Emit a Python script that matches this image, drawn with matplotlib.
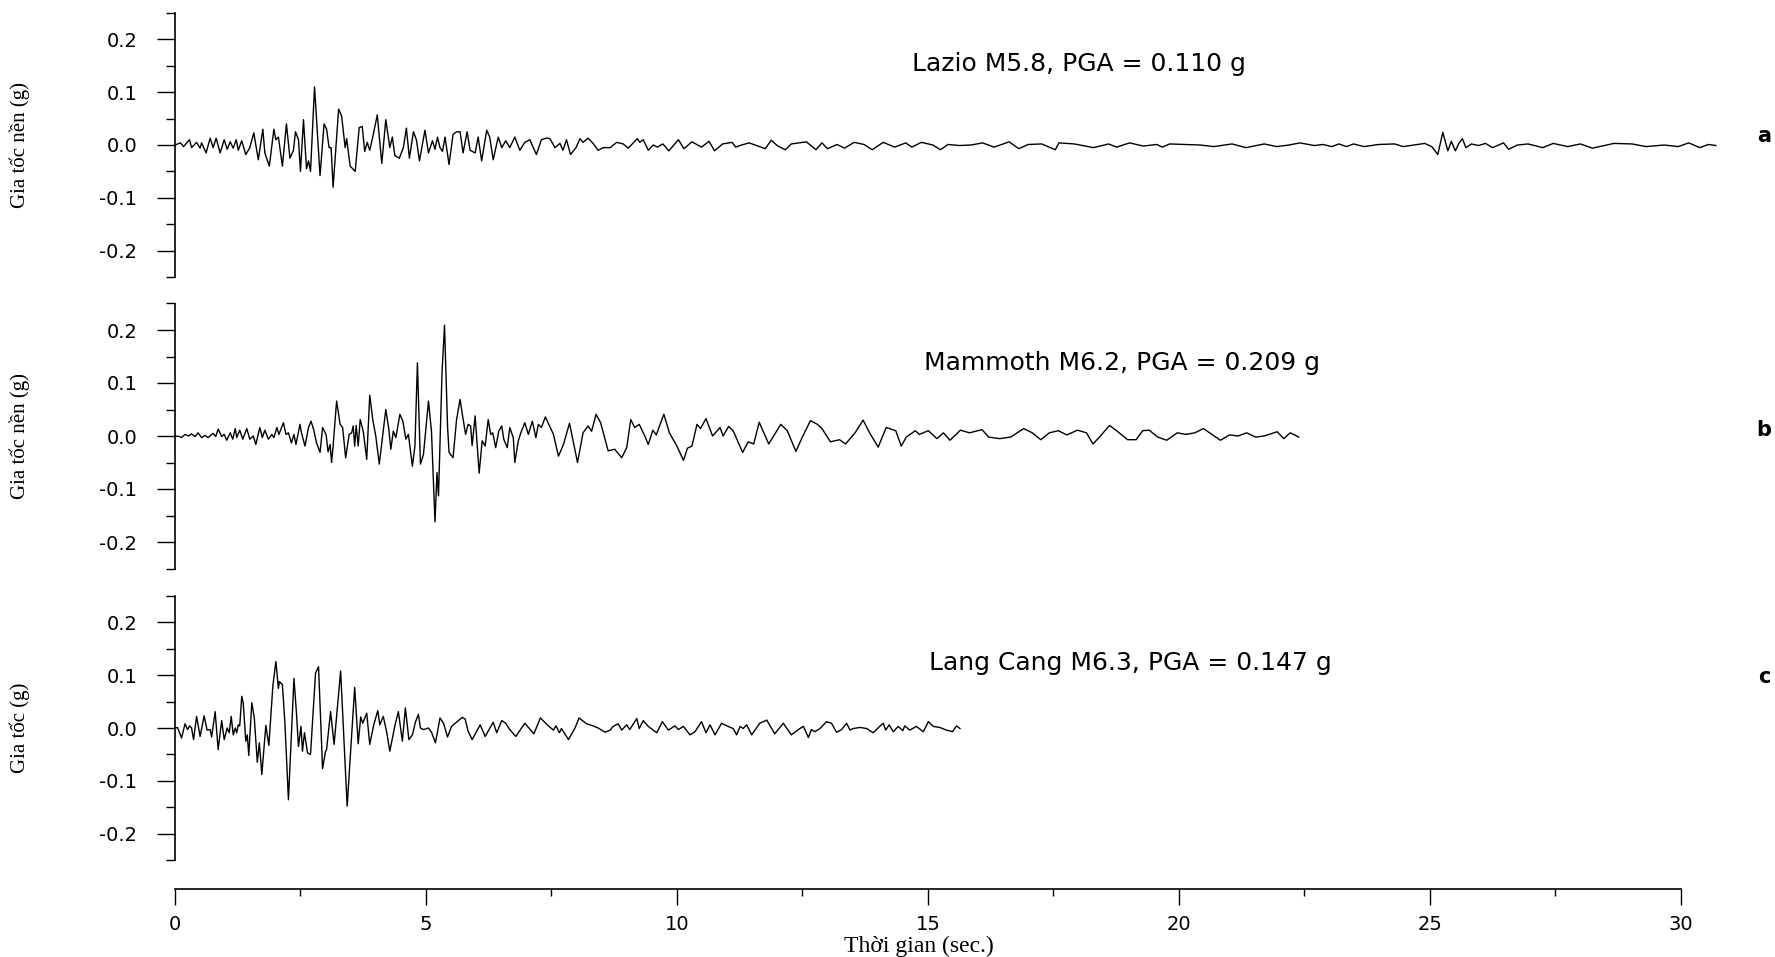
import matplotlib
matplotlib.use("Agg")
import matplotlib.pyplot as plt
from matplotlib.ticker import MultipleLocator, FormatStrFormatter

plt.rcParams['axes.unicode_minus'] = False

# Lazio M5.8 (time s, acceleration g)
lazio_t = [0.00, 0.11, 0.17, 0.29, 0.33, 0.43, 0.50, 0.53, 0.62, 0.70, 0.76, 0.82, 0.90, 0.98, 1.04, 1.10,
           1.16, 1.22, 1.26, 1.33, 1.41, 1.49, 1.57, 1.66, 1.75, 1.79, 1.88, 1.97, 2.01, 2.06, 2.14, 2.22,
           2.29, 2.36, 2.40, 2.46, 2.50, 2.56, 2.62, 2.66, 2.70, 2.78, 2.89, 2.97, 3.02, 3.07, 3.11, 3.15,
           3.26, 3.32, 3.39, 3.42, 3.49, 3.59, 3.67, 3.73, 3.78, 3.83, 3.88, 3.94, 4.03, 4.12, 4.20, 4.28,
           4.33, 4.38, 4.47, 4.55, 4.61, 4.67, 4.75, 4.81, 4.87, 4.98, 5.05, 5.13, 5.18, 5.23, 5.28, 5.33,
           5.38, 5.46, 5.54, 5.61, 5.68, 5.74, 5.82, 5.88, 5.98, 6.04, 6.11, 6.21, 6.27, 6.34, 6.44, 6.51,
           6.59, 6.67, 6.77, 6.87, 6.97, 7.07, 7.20, 7.30, 7.40, 7.47, 7.57, 7.67, 7.73, 7.80, 7.88, 7.99,
           8.07, 8.13, 8.23, 8.33, 8.43, 8.53, 8.67, 8.80, 8.93, 9.03, 9.12, 9.21, 9.26, 9.33, 9.43,
           9.53, 9.61, 9.72, 9.84, 10.03, 10.14, 10.30, 10.49, 10.64, 10.75, 10.91, 11.10, 11.17, 11.29,
           11.44, 11.67, 11.76, 11.88, 12.01, 12.16, 12.28, 12.43, 12.58, 12.77, 12.89, 13.00, 13.19, 13.34,
           13.53, 13.73, 13.89, 14.11, 14.34, 14.56, 14.68, 14.87, 15.10, 15.25, 15.40, 15.63, 15.86, 16.09,
           16.32, 16.62, 16.81, 17.00, 17.27, 17.54, 17.61, 17.92, 18.30, 18.60, 18.76, 19.02, 19.29, 19.56,
           19.67, 19.82, 20.42, 20.70, 21.06, 21.34, 21.70, 21.95, 22.20, 22.41, 22.70, 22.87, 23.05, 23.19,
           23.34, 23.48, 23.69, 23.98, 24.30, 24.47, 24.69, 24.90, 25.04, 25.16, 25.26, 25.36, 25.43, 25.51,
           25.58, 25.65, 25.72, 25.83, 25.97, 26.11, 26.25, 26.47, 26.57, 26.75, 26.96, 27.25, 27.46, 27.75,
           28.00, 28.24, 28.67, 29.03, 29.31, 29.67, 29.95, 30.16, 30.38, 30.55, 30.70]
lazio_a = [0.000, 0.004, -0.003, 0.010, -0.005, 0.005, -0.006, 0.004, -0.015, 0.013, -0.005, 0.013, -0.015, 0.010, -0.008, 0.006,
           -0.006, 0.010, -0.010, 0.008, -0.018, -0.005, 0.023, -0.028, 0.030, -0.015, -0.040, 0.030, 0.010, 0.015, -0.040, 0.040,
           -0.025, -0.010, 0.025, 0.010, -0.050, 0.048, -0.045, -0.030, -0.050, 0.110, -0.058, 0.040, 0.030, -0.005, -0.005, -0.080,
           0.068, 0.055, -0.005, 0.012, -0.040, -0.050, 0.033, 0.035, -0.012, 0.005, -0.010, 0.015, 0.057, -0.035, 0.048, -0.005,
           0.015, -0.020, -0.025, -0.005, 0.032, -0.025, 0.025, 0.010, -0.030, 0.028, -0.015, 0.008, -0.008, 0.015, -0.005, -0.012,
           0.015, -0.037, 0.020, 0.025, 0.025, -0.015, 0.025, -0.010, -0.015, 0.015, -0.030, 0.028, 0.015, -0.028, 0.015, -0.005,
           0.008, -0.005, 0.015, -0.010, 0.005, 0.010, -0.018, 0.010, 0.013, 0.012, -0.005, 0.003, -0.010, 0.010, -0.018, -0.005,
           0.012, 0.005, 0.013, 0.003, -0.010, -0.005, -0.005, 0.005, 0.002, -0.006, 0.003, 0.012, 0.005, 0.010, -0.010,
           0.000, -0.004, 0.002, -0.011, 0.010, -0.007, 0.006, -0.004, 0.007, -0.011, 0.002, 0.005, -0.004, 0.000,
           0.004, -0.004, -0.007, 0.009, -0.002, -0.009, 0.002, 0.004, 0.006, -0.009, 0.004, -0.007, 0.001, -0.006,
           0.005, 0.001, -0.009, 0.005, -0.004, 0.004, -0.004, 0.005, 0.000, -0.009, 0.001, -0.001, 0.000, 0.004,
           -0.004, 0.006, -0.007, 0.001, 0.002, -0.009, 0.004, 0.002, -0.005, 0.002, -0.004, 0.004, -0.002, 0.001,
           -0.004, 0.002, 0.000, -0.003, 0.002, -0.005, 0.002, -0.003, 0.000, 0.004, -0.001, 0.001, -0.003, 0.002,
           -0.003, 0.002, -0.003, 0.001, 0.002, -0.003, 0.000, 0.003, -0.003, -0.018, 0.024, -0.011, 0.007, -0.011,
           0.003, 0.012, -0.005, 0.002, -0.001, 0.003, -0.005, 0.004, -0.008, 0.000, 0.002, -0.005, 0.003, -0.003,
           0.002, -0.006, 0.003, 0.002, -0.003, 0.000, -0.003, 0.004, -0.005, 0.001, -0.001]

# Mammoth M6.2
mammoth_t = [0.00, 0.09, 0.13, 0.20, 0.27, 0.33, 0.40, 0.46, 0.53, 0.60, 0.66, 0.76, 0.81, 0.86, 0.93, 0.98,
             1.03, 1.10, 1.15, 1.20, 1.23, 1.29, 1.35, 1.43, 1.49, 1.56, 1.61, 1.69, 1.74, 1.79, 1.86, 1.93,
             1.97, 2.03, 2.07, 2.16, 2.21, 2.26, 2.32, 2.37, 2.41, 2.49, 2.52, 2.59, 2.66, 2.71, 2.76, 2.82,
             2.89, 2.94, 3.01, 3.05, 3.09, 3.12, 3.15, 3.22, 3.29, 3.34, 3.40, 3.47, 3.52, 3.55, 3.58, 3.61,
             3.65, 3.69, 3.75, 3.82, 3.88, 3.94, 4.00, 4.07, 4.20, 4.26, 4.30, 4.35, 4.40, 4.43, 4.48, 4.54,
             4.60, 4.65, 4.73, 4.78, 4.83, 4.89, 4.95, 5.05, 5.11, 5.18, 5.22, 5.25, 5.32, 5.37, 5.43, 5.46,
             5.54, 5.61, 5.68, 5.72, 5.79, 5.84, 5.89, 5.92, 5.98, 6.06, 6.12, 6.18, 6.24, 6.29, 6.33, 6.39,
             6.45, 6.51, 6.55, 6.62, 6.67, 6.74, 6.77, 6.84, 6.89, 6.97, 7.04, 7.12, 7.19, 7.24, 7.30, 7.38,
             7.54, 7.64, 7.74, 7.86, 8.02, 8.13, 8.23, 8.30, 8.39, 8.48, 8.63, 8.76, 8.90, 9.00, 9.08, 9.16,
             9.25, 9.36, 9.43, 9.52, 9.59, 9.65, 9.74, 9.85, 10.00, 10.13, 10.21, 10.30, 10.40, 10.47, 10.58,
             10.71, 10.86, 10.92, 11.03, 11.12, 11.31, 11.42, 11.53, 11.64, 11.83, 12.07, 12.20, 12.37, 12.50,
             12.66, 12.80, 12.89, 13.06, 13.24, 13.36, 13.55, 13.71, 13.84, 14.01, 14.17, 14.36, 14.47, 14.57,
             14.75, 14.83, 15.01, 15.18, 15.31, 15.44, 15.65, 15.83, 16.08, 16.21, 16.43, 16.65, 16.91, 17.08,
             17.25, 17.42, 17.60, 17.77, 17.98, 18.16, 18.29, 18.42, 18.62, 18.76, 18.98, 19.15, 19.28, 19.41,
             19.58, 19.76, 19.97, 20.14, 20.32, 20.49, 20.66, 20.83, 21.01, 21.18, 21.35, 21.53, 21.70, 21.96,
             22.09, 22.22, 22.39]
mammoth_a = [0.000, -0.001, -0.003, 0.003, 0.000, 0.004, -0.001, 0.006, -0.003, 0.001, -0.003, 0.005, -0.001, 0.013, -0.001, 0.003,
             -0.008, 0.006, -0.006, 0.014, -0.003, 0.011, -0.006, 0.014, -0.006, 0.000, -0.016, 0.016, -0.003, 0.011, -0.006, 0.003,
             -0.003, 0.016, 0.003, 0.025, 0.003, 0.006, -0.013, 0.003, -0.016, 0.022, 0.006, -0.019, 0.016, 0.028, 0.013, -0.013,
             -0.031, 0.016, 0.003, -0.030, -0.016, -0.050, -0.019, 0.066, 0.022, 0.016, -0.041, 0.003, 0.006, 0.019, -0.019, 0.020,
             -0.019, 0.031, 0.009, -0.044, 0.077, 0.031, 0.000, -0.053, 0.050, 0.013, -0.025, 0.009, -0.003, 0.013, 0.041, 0.028,
             -0.006, 0.003, -0.057, -0.019, 0.138, -0.053, -0.035, 0.066, 0.009, -0.162, -0.069, -0.113, 0.119, 0.209, 0.019, -0.031,
             -0.041, 0.031, 0.069, 0.044, 0.003, 0.022, 0.019, -0.018, 0.038, -0.070, -0.009, -0.019, 0.031, 0.003, 0.006, -0.022,
             0.009, 0.019, -0.006, -0.022, 0.016, -0.003, -0.050, -0.009, 0.006, 0.025, 0.003, 0.028, -0.003, 0.022, 0.016, 0.036,
             0.003, -0.038, -0.016, 0.024, -0.050, 0.006, 0.019, 0.009, 0.041, 0.025, -0.028, -0.025, -0.041, -0.022, 0.031, 0.016,
             0.022, 0.000, -0.016, 0.011, 0.002, 0.018, 0.041, 0.006, -0.019, -0.046, -0.023, -0.019, 0.022, 0.014, 0.033,
             0.000, 0.016, 0.000, 0.018, 0.010, -0.031, -0.011, -0.015, 0.026, -0.015, 0.022, 0.010, -0.029, -0.002,
             0.029, 0.022, 0.014, -0.011, -0.007, -0.015, 0.006, 0.030, 0.006, -0.021, 0.016, 0.010, -0.019, -0.002,
             0.010, 0.003, 0.010, -0.005, 0.006, -0.008, 0.011, 0.006, 0.012, -0.002, -0.005, -0.002, 0.014, 0.006,
             -0.007, 0.006, 0.010, 0.002, 0.011, 0.006, -0.015, -0.002, 0.020, 0.010, -0.007, -0.007, 0.010, 0.011,
             -0.002, -0.008, 0.006, 0.003, 0.006, 0.014, 0.003, -0.008, 0.002, 0.000, 0.006, -0.002, 0.000, 0.008,
             -0.005, 0.006, -0.002]

# Lang Cang M6.3
langcang_t = [0.00, 0.05, 0.13, 0.20, 0.25, 0.29, 0.33, 0.37, 0.43, 0.50, 0.58, 0.64, 0.70, 0.73, 0.80, 0.86,
              0.93, 0.98, 1.04, 1.08, 1.12, 1.16, 1.20, 1.23, 1.26, 1.29, 1.33, 1.36, 1.41, 1.44, 1.47, 1.53,
              1.58, 1.64, 1.68, 1.73, 1.81, 1.87, 1.95, 2.01, 2.06, 2.08, 2.14, 2.19, 2.26, 2.37, 2.42, 2.46,
              2.51, 2.54, 2.58, 2.64, 2.70, 2.80, 2.86, 2.94, 3.00, 3.02, 3.10, 3.17, 3.30, 3.43, 3.58, 3.65,
              3.70, 3.74, 3.82, 3.88, 3.96, 4.04, 4.08, 4.15, 4.22, 4.28, 4.38, 4.45, 4.53, 4.59, 4.66, 4.73,
              4.79, 4.85, 4.89, 4.95, 5.05, 5.11, 5.19, 5.28, 5.35, 5.43, 5.51, 5.61, 5.72, 5.78, 5.84, 5.92,
              6.08, 6.18, 6.24, 6.34, 6.41, 6.51, 6.59, 6.67, 6.79, 6.97, 7.15, 7.28, 7.44, 7.54, 7.59, 7.66,
              7.70, 7.84, 7.97, 8.05, 8.20, 8.33, 8.43, 8.57, 8.67, 8.73, 8.83, 8.90, 9.00, 9.06, 9.20, 9.25,
              9.33, 9.43, 9.60, 9.71, 9.83, 9.96, 10.03, 10.13, 10.26, 10.36, 10.49, 10.58, 10.66, 10.76, 10.89,
              11.02, 11.12, 11.19, 11.26, 11.32, 11.39, 11.49, 11.65, 11.79, 11.95, 12.12, 12.28, 12.45, 12.52,
              12.62, 12.68, 12.75, 12.85, 12.98, 13.08, 13.18, 13.28, 13.38, 13.45, 13.51, 13.65, 13.78, 13.91,
              14.04, 14.11, 14.16, 14.23, 14.31, 14.41, 14.50, 14.54, 14.64, 14.77, 14.91, 15.01, 15.11, 15.24,
              15.37, 15.49, 15.57, 15.64]
langcang_a = [0.000, 0.001, -0.019, 0.008, -0.003, 0.004, 0.000, -0.022, 0.022, -0.016, 0.023, -0.004, -0.003, -0.017, 0.031, -0.041,
              0.014, -0.022, 0.000, -0.009, 0.022, -0.013, 0.000, -0.009, 0.006, 0.004, 0.060, 0.047, -0.025, -0.013, -0.052, 0.048,
              0.019, -0.065, -0.028, -0.088, 0.005, -0.033, 0.080, 0.126, 0.075, 0.088, 0.082, 0.009, -0.136, 0.094, 0.028, -0.035,
              0.003, -0.044, -0.009, -0.047, -0.050, 0.104, 0.116, -0.077, -0.044, -0.041, 0.031, -0.031, 0.108, -0.148, 0.077, -0.030,
              0.021, 0.009, 0.028, -0.031, 0.006, 0.033, 0.006, 0.022, -0.009, -0.044, 0.004, 0.031, -0.025, 0.038, -0.022, -0.013,
              0.011, 0.026, 0.000, -0.003, 0.000, -0.008, -0.028, 0.019, 0.009, -0.017, 0.003, 0.011, 0.020, 0.017, -0.006, -0.022,
              0.006, -0.016, -0.006, 0.011, -0.009, 0.014, 0.009, -0.003, -0.016, 0.009, -0.011, 0.019, 0.004, -0.004, 0.004, -0.009,
              -0.001, -0.022, 0.000, 0.019, 0.008, 0.004, 0.000, -0.008, -0.004, 0.003, 0.008, -0.004, 0.006, -0.003, 0.018, -0.001,
              0.014, 0.003, -0.009, 0.012, -0.004, 0.004, -0.003, 0.003, -0.013, -0.007, 0.012, -0.009, 0.006, -0.013, 0.009,
              0.003, -0.001, -0.013, 0.003, -0.001, 0.006, -0.013, 0.009, 0.015, -0.011, 0.009, -0.013, -0.001, 0.003,
              -0.018, -0.003, -0.007, -0.001, 0.012, 0.009, -0.008, -0.003, 0.009, -0.004, -0.001, 0.001, -0.001, -0.009,
              0.003, 0.009, -0.004, 0.006, -0.007, 0.003, -0.005, 0.004, -0.004, 0.003, -0.007, 0.012, 0.003, 0.001,
              -0.004, -0.007, 0.004, -0.001]

records = [
    (lazio_t, lazio_a, "Lazio M5.8, PGA = 0.110 g", "a", "Gia tốc nền (g)"),
    (mammoth_t, mammoth_a, "Mammoth M6.2, PGA = 0.209 g", "b", "Gia tốc nền (g)"),
    (langcang_t, langcang_a, "Lang Cang M6.3, PGA = 0.147 g", "c", "Gia tốc (g)"),
]

W, H = 1775, 957
fig = plt.figure(figsize=(W / 100, H / 100), dpi=100)

# panel extents in pixels (top, bottom of the y axis), x=0 at 175 px
panel_px = [(13, 277), (303.5, 568.5), (596, 860)]
title_px = [(1079, 64), (1122, 363), (1130, 663)]
letter_px = [136, 430, 677]
x0, xw = 175, 1581

serif = "Liberation Serif"
sans = "DejaVu Sans"

for i, (t, acc, title, letter, ylab) in enumerate(records):
    top, bot = panel_px[i]
    ax = fig.add_axes([x0 / W, 1 - bot / H, xw / W, (bot - top) / H])
    ax.plot(t, acc, color="black", lw=1.0)
    ax.set_xlim(0, 31.5)
    ax.set_ylim(-0.25, 0.25)
    for s in ["top", "right"]:
        ax.spines[s].set_visible(False)
    ax.spines["left"].set_linewidth(1.2)
    ax.set_yticks([-0.2, -0.1, 0.0, 0.1, 0.2])
    ax.yaxis.set_minor_locator(MultipleLocator(0.05))
    ax.yaxis.set_major_formatter(FormatStrFormatter("%.1f"))
    ax.tick_params(axis="y", which="major", length=13, width=1, pad=14, labelsize=14)
    ax.tick_params(axis="y", which="minor", length=6.5, width=1)
    for lab in ax.get_yticklabels():
        lab.set_family(sans)
    ax.set_ylabel(ylab, family=serif, fontsize=15)
    ax.yaxis.set_label_coords(-(x0 - 30) / xw, 0.5)

    if i < 2:
        ax.spines["bottom"].set_visible(False)
        ax.tick_params(axis="x", which="both", bottom=False, labelbottom=False)
    else:
        ax.spines["bottom"].set_position(("outward", 21))
        ax.spines["bottom"].set_bounds(0, 30)
        ax.spines["bottom"].set_linewidth(1.2)
        ax.set_xticks([0, 5, 10, 15, 20, 25, 30])
        ax.xaxis.set_minor_locator(MultipleLocator(2.5))
        ax.tick_params(axis="x", which="major", length=11.5, width=1, pad=7, labelsize=14)
        ax.tick_params(axis="x", which="minor", length=5, width=1)
        for lab in ax.get_xticklabels():
            lab.set_family(sans)

    tx, ty = title_px[i]
    fig.text(tx / W, 1 - ty / H, title, ha="center", va="center", family=sans, fontsize=18)
    fig.text(1764 / W, 1 - letter_px[i] / H, letter, ha="center", va="center",
             family=sans, fontsize=15, fontweight="bold")

fig.text(919 / W, 1 - 946 / H, "Thời gian (sec.)", ha="center", va="center", family=serif, fontsize=17)

fig.savefig("out.png", dpi=100)
